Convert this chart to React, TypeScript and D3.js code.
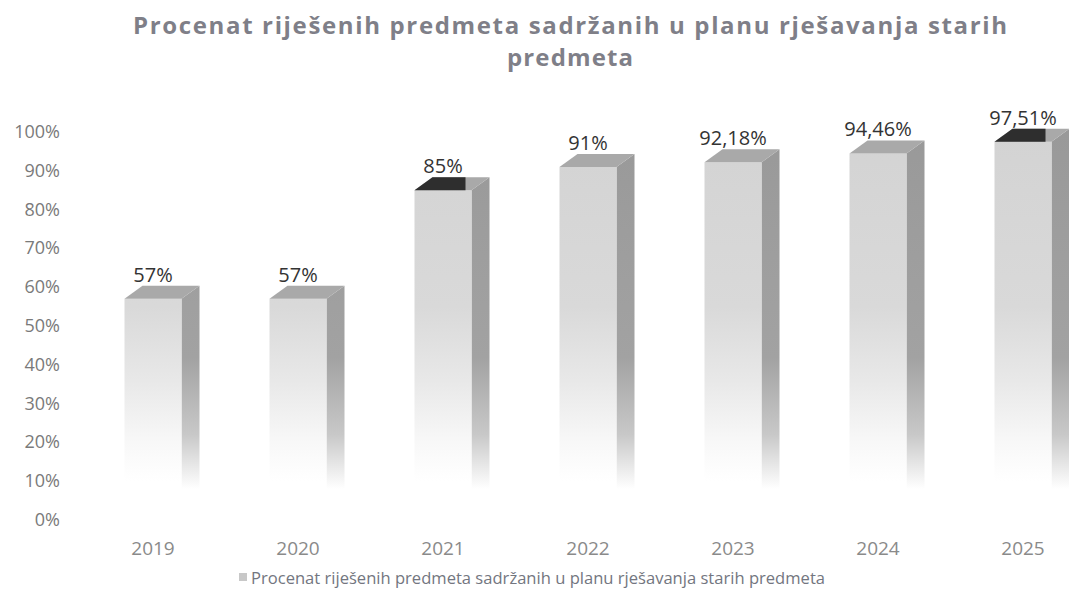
import React from "react";
import * as d3 from "d3";

const years = ["2019", "2020", "2021", "2022", "2023", "2024", "2025"];
const values = [57, 57, 85, 91, 92.18, 94.46, 97.51];
const valueLabels = ["57%", "57%", "85%", "91%", "92,18%", "94,46%", "97,51%"];
const darkTop = [false, false, true, false, false, false, true];
const yTicks = [0, 10, 20, 30, 40, 50, 60, 70, 80, 90, 100];
const titleLines = [
  "Procenat riješenih predmeta sadržanih u planu rješavanja starih",
  "predmeta",
];
const legendLabel = "Procenat riješenih predmeta sadržanih u planu rješavanja starih predmeta";

export default function App() {
  const W = 1069;
  const H = 612;
  const y = d3.scaleLinear().domain([0, 100]).range([520, 132]);
  const x = d3.scalePoint<string>().domain(years).range([153, 1023]);
  const fw = 57;
  const dx = 18;
  const dy = 13;
  const font = "'Open Sans', sans-serif";
  const y0 = y(0);
  const y100 = y(100);

  return (
    <svg width={W} height={H} style={{ display: "block", position: "absolute", left: 0, top: 0 }}>
      <defs>
        <linearGradient id="front" gradientUnits="userSpaceOnUse" x1="0" y1={y100} x2="0" y2={y0}>
          <stop offset="0" stopColor="#d3d3d3" />
          <stop offset="0.45" stopColor="#d9d9d9" />
          <stop offset="0.64" stopColor="#e8e8e8" />
          <stop offset="0.8" stopColor="#f8f8f8" />
          <stop offset="0.9" stopColor="#ffffff" />
        </linearGradient>
        <linearGradient id="side" gradientUnits="userSpaceOnUse" x1="0" y1={y100} x2="0" y2={y0}>
          <stop offset="0" stopColor="#999999" />
          <stop offset="0.58" stopColor="#a2a2a2" />
          <stop offset="0.78" stopColor="#c8c8c8" />
          <stop offset="0.92" stopColor="#ffffff" />
        </linearGradient>
      </defs>
      <rect width={W} height={H} fill="#ffffff" />

      {titleLines.map((t, i) => (
        <text
          key={i}
          x={570}
          y={34 + i * 32}
          textAnchor="middle"
          fontFamily={font}
          fontWeight={700}
          fontSize={24}
          fill="#7f7f88"
          textLength={i === 0 ? 874 : 126}
          lengthAdjust="spacing"
        >
          {t}
        </text>
      ))}

      {yTicks.map((t) => (
        <text
          key={t}
          x={60}
          y={y(t) + 6}
          textAnchor="end"
          fontFamily={font}
          fontSize={18}
          fill="#7a7a7a"
        >
          {t}%
        </text>
      ))}

      {years.map((yr, i) => {
        const cx = x(yr) as number;
        const xl = cx - fw / 2;
        const xr = cx + fw / 2;
        const yt = y(values[i]);
        const front = `M${xl},${yt} L${xr},${yt} L${xr},${y0} L${xl},${y0} Z`;
        const side = `M${xr},${yt} L${xr + dx},${yt - dy} L${xr + dx},${y0 - dy} L${xr},${y0} Z`;
        const top = `M${xl},${yt} L${xl + dx},${yt - dy} L${xr + dx},${yt - dy} L${xr},${yt} Z`;
        return (
          <g key={yr}>
            <path d={side} fill="url(#side)" />
            <path d={front} fill="url(#front)" />
            <path d={top} fill="#a9a9a9" />
            {darkTop[i] && (
              <path
                d={`M${xl},${yt} L${xl + dx},${yt - dy} L${xr - 6},${yt - dy} L${xr - 6},${yt} Z`}
                fill="#2e2e2e"
              />
            )}
            <text
              x={cx}
              y={yt - 17}
              textAnchor="middle"
              fontFamily={font}
              fontSize={20}
              fill="#333333"
            >
              {valueLabels[i]}
            </text>
            <text
              x={cx}
              y={555}
              textAnchor="middle"
              fontFamily={font}
              fontSize={19}
              fill="#8a8a8a"
            >
              {yr}
            </text>
          </g>
        );
      })}

      <rect x={239} y={573} width={8} height={8} fill="#c8c8c8" />
      <text x={251} y={584} fontFamily={font} fontSize={17} fill="#737680" textLength={574} lengthAdjust="spacingAndGlyphs">
        {legendLabel}
      </text>
    </svg>
  );
}
